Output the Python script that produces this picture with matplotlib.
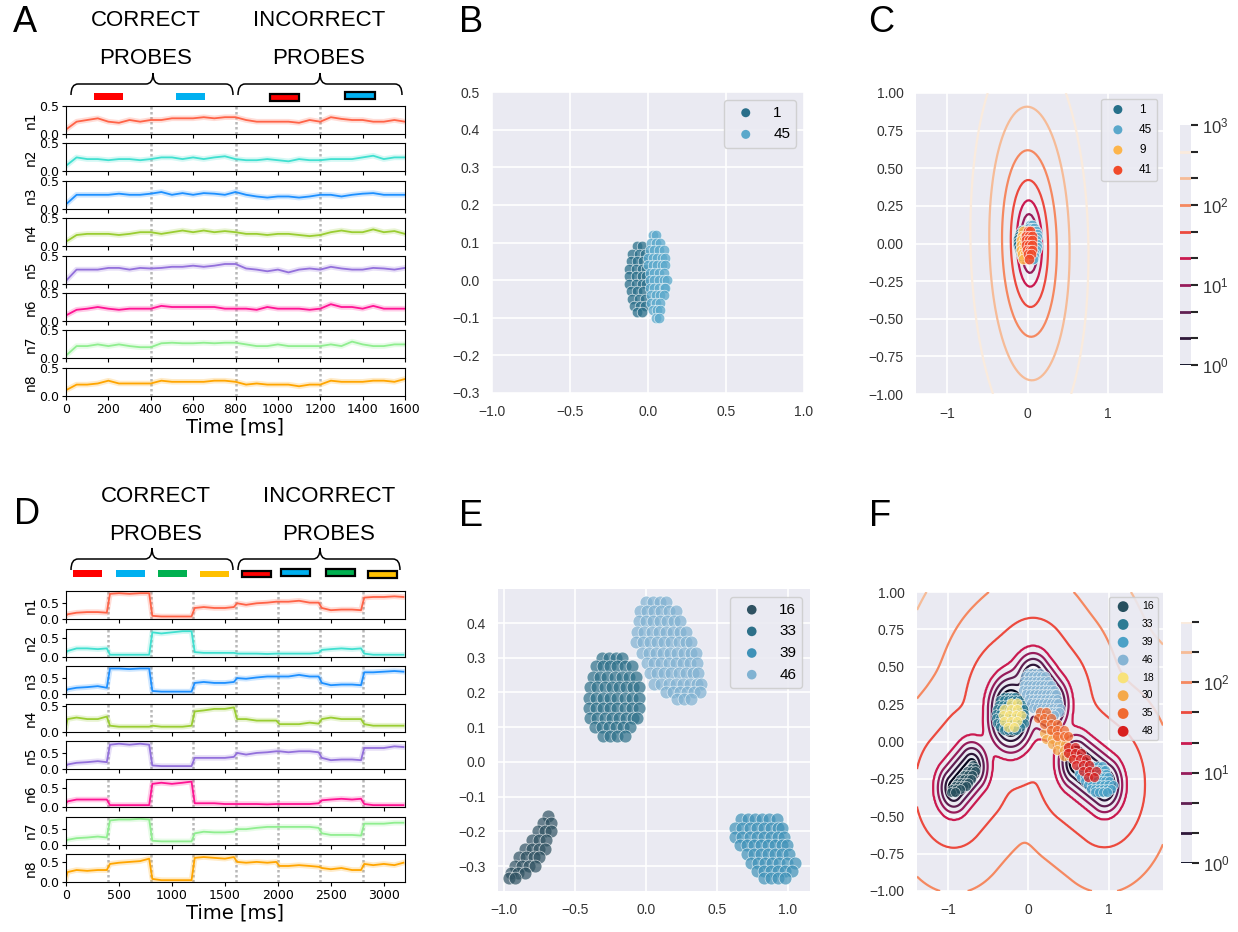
import numpy as np
import matplotlib
matplotlib.use("Agg")
import matplotlib.pyplot as plt
import seaborn as sns
from matplotlib.path import Path
from matplotlib.patches import PathPatch, Rectangle
from matplotlib.colors import LogNorm
from matplotlib.ticker import NullLocator

plt.rcParams["mathtext.fontset"] = "custom"
plt.rcParams["mathtext.rm"] = "Liberation Sans"
plt.rcParams["mathtext.it"] = "Liberation Sans:italic"

W, H = 1238, 932

## ---------------- data: panel A (mean activity, read every 50 ms) ----------------
TIME_A = np.arange(0, 1601, 50)
BOUNDS_A = [400, 800, 1200]
A_N1 = [0.08, 0.22, 0.25, 0.28, 0.22, 0.20, 0.25, 0.22, 0.25, 0.25, 0.28, 0.28, 0.28, 0.30, 0.28, 0.30, 0.30,
        0.25, 0.22, 0.22, 0.22, 0.22, 0.20, 0.25, 0.22, 0.30, 0.27, 0.25, 0.25, 0.22, 0.22, 0.25, 0.22]
A_N2 = [0.10, 0.25, 0.22, 0.22, 0.20, 0.22, 0.22, 0.20, 0.22, 0.25, 0.25, 0.22, 0.25, 0.22, 0.25, 0.27, 0.22,
        0.20, 0.20, 0.22, 0.20, 0.18, 0.22, 0.20, 0.20, 0.22, 0.22, 0.22, 0.25, 0.28, 0.22, 0.25, 0.25]
A_N3 = [0.08, 0.25, 0.25, 0.25, 0.25, 0.27, 0.25, 0.25, 0.27, 0.30, 0.25, 0.28, 0.25, 0.28, 0.27, 0.25, 0.30,
        0.25, 0.22, 0.20, 0.22, 0.22, 0.20, 0.22, 0.25, 0.25, 0.22, 0.25, 0.27, 0.28, 0.25, 0.25, 0.25]
A_N4 = [0.08, 0.20, 0.22, 0.22, 0.22, 0.20, 0.22, 0.25, 0.25, 0.22, 0.25, 0.28, 0.25, 0.28, 0.25, 0.27, 0.25,
        0.22, 0.22, 0.20, 0.22, 0.22, 0.20, 0.18, 0.20, 0.25, 0.28, 0.25, 0.25, 0.30, 0.25, 0.27, 0.22]
A_N5 = [0.05, 0.25, 0.25, 0.25, 0.28, 0.28, 0.25, 0.28, 0.27, 0.28, 0.30, 0.30, 0.32, 0.30, 0.32, 0.35, 0.35,
        0.27, 0.25, 0.22, 0.25, 0.20, 0.25, 0.27, 0.25, 0.30, 0.27, 0.25, 0.25, 0.28, 0.27, 0.25, 0.28]
A_N6 = [0.10, 0.20, 0.22, 0.25, 0.22, 0.20, 0.22, 0.22, 0.22, 0.27, 0.25, 0.25, 0.25, 0.25, 0.25, 0.22, 0.22,
        0.22, 0.20, 0.25, 0.22, 0.22, 0.22, 0.20, 0.22, 0.30, 0.25, 0.25, 0.22, 0.27, 0.22, 0.22, 0.22]
A_N7 = [0.05, 0.22, 0.22, 0.25, 0.22, 0.25, 0.22, 0.20, 0.20, 0.27, 0.28, 0.27, 0.27, 0.28, 0.27, 0.28, 0.28,
        0.25, 0.22, 0.22, 0.25, 0.22, 0.22, 0.22, 0.22, 0.25, 0.22, 0.30, 0.25, 0.22, 0.22, 0.25, 0.25]
A_N8 = [0.10, 0.20, 0.20, 0.22, 0.27, 0.22, 0.22, 0.22, 0.22, 0.27, 0.25, 0.25, 0.25, 0.25, 0.27, 0.27, 0.25,
        0.20, 0.22, 0.20, 0.20, 0.20, 0.17, 0.20, 0.20, 0.27, 0.25, 0.25, 0.25, 0.27, 0.27, 0.25, 0.30]

## ---------------- data: panel D (start value + 5 readings per 400 ms probe) ----------------
SEG_STARTS_D = np.arange(0, 3200, 400)
SEG_OFFSETS_D = [15, 100, 200, 300, 385]
TIME_D = np.concatenate([[0], (SEG_STARTS_D[:, None] + np.array(SEG_OFFSETS_D)).ravel()])
BOUNDS_D = [400, 800, 1200, 1600, 2000, 2400, 2800]
D_N1 = [0.10, 0.15, 0.20, 0.22, 0.22, 0.20, 0.80, 0.82, 0.80, 0.82, 0.82, 0.10, 0.08, 0.08, 0.08, 0.08,
        0.35, 0.38, 0.35, 0.35, 0.38, 0.50, 0.45, 0.50, 0.52, 0.55, 0.55, 0.55, 0.58, 0.52, 0.52,
        0.35, 0.28, 0.30, 0.30, 0.28, 0.68, 0.70, 0.70, 0.72, 0.70]
D_N2 = [0.10, 0.15, 0.22, 0.22, 0.20, 0.22, 0.05, 0.05, 0.05, 0.05, 0.05, 0.65, 0.62, 0.65, 0.68, 0.68,
        0.12, 0.10, 0.10, 0.10, 0.10, 0.08, 0.08, 0.08, 0.07, 0.08, 0.08, 0.08, 0.08, 0.08, 0.10,
        0.18, 0.20, 0.22, 0.20, 0.22, 0.08, 0.05, 0.05, 0.05, 0.05]
D_N3 = [0.10, 0.15, 0.20, 0.22, 0.25, 0.20, 0.80, 0.80, 0.78, 0.80, 0.80, 0.10, 0.08, 0.08, 0.08, 0.08,
        0.35, 0.38, 0.35, 0.35, 0.38, 0.50, 0.48, 0.52, 0.55, 0.55, 0.55, 0.55, 0.60, 0.55, 0.55,
        0.35, 0.28, 0.30, 0.30, 0.28, 0.68, 0.68, 0.70, 0.72, 0.70]
D_N4 = [0.10, 0.25, 0.28, 0.25, 0.25, 0.30, 0.12, 0.10, 0.10, 0.10, 0.10, 0.12, 0.10, 0.10, 0.10, 0.12,
        0.40, 0.42, 0.45, 0.45, 0.48, 0.25, 0.25, 0.22, 0.22, 0.22, 0.15, 0.15, 0.15, 0.18, 0.16,
        0.25, 0.28, 0.25, 0.25, 0.25, 0.15, 0.12, 0.12, 0.12, 0.12]
D_N5 = [0.10, 0.15, 0.20, 0.22, 0.25, 0.22, 0.75, 0.78, 0.75, 0.78, 0.75, 0.12, 0.10, 0.10, 0.10, 0.10,
        0.35, 0.35, 0.35, 0.35, 0.38, 0.50, 0.45, 0.50, 0.52, 0.55, 0.55, 0.52, 0.55, 0.55, 0.52,
        0.35, 0.28, 0.30, 0.30, 0.28, 0.65, 0.65, 0.65, 0.70, 0.68]
D_N6 = [0.10, 0.15, 0.20, 0.20, 0.20, 0.20, 0.05, 0.05, 0.05, 0.05, 0.05, 0.62, 0.65, 0.62, 0.65, 0.68,
        0.10, 0.10, 0.10, 0.08, 0.08, 0.08, 0.08, 0.08, 0.07, 0.08, 0.08, 0.08, 0.08, 0.08, 0.10,
        0.18, 0.20, 0.22, 0.20, 0.22, 0.08, 0.05, 0.05, 0.05, 0.05]
D_N7 = [0.10, 0.15, 0.20, 0.22, 0.25, 0.22, 0.75, 0.78, 0.78, 0.80, 0.78, 0.12, 0.10, 0.10, 0.10, 0.10,
        0.35, 0.40, 0.38, 0.38, 0.40, 0.48, 0.48, 0.52, 0.55, 0.55, 0.55, 0.55, 0.55, 0.55, 0.52,
        0.35, 0.30, 0.30, 0.30, 0.28, 0.65, 0.65, 0.65, 0.68, 0.68]
D_N8 = [0.10, 0.25, 0.30, 0.28, 0.30, 0.30, 0.45, 0.48, 0.50, 0.52, 0.58, 0.08, 0.05, 0.05, 0.05, 0.05,
        0.60, 0.62, 0.60, 0.58, 0.62, 0.50, 0.48, 0.50, 0.48, 0.50, 0.40, 0.40, 0.42, 0.40, 0.38,
        0.35, 0.32, 0.35, 0.30, 0.30, 0.45, 0.42, 0.45, 0.42, 0.48]

NEURON_COLORS = ["tomato", "turquoise", "dodgerblue", "yellowgreen",
                 "mediumpurple", "deeppink", "lightgreen", "orange"]
PROBE_COLORS_A = ["#FF0000", "#00B0F0"]
PROBE_COLORS_D = ["#FF0000", "#00B0F0", "#00B050", "#FFC000"]

## ---------------- data: scatter clusters, rows of (y, [x ...]) ----------------
B_C1 = [(0.09, [-0.07, -0.04]), (0.07, [-0.10, -0.06, -0.02]), (0.05, [-0.11, -0.07, -0.03]),
        (0.03, [-0.12, -0.08, -0.04, -0.01]), (0.01, [-0.12, -0.08, -0.04, -0.01]),
        (-0.01, [-0.12, -0.08, -0.04, -0.01]), (-0.03, [-0.11, -0.07, -0.03]),
        (-0.05, [-0.10, -0.06, -0.02]), (-0.07, [-0.09, -0.05, -0.02]), (-0.085, [-0.07, -0.04])]
B_C45 = [(0.12, [0.03, 0.05]), (0.10, [0.02, 0.05, 0.08]), (0.08, [0.01, 0.04, 0.07, 0.10]),
         (0.06, [0.0, 0.03, 0.06, 0.09, 0.11]), (0.04, [0.0, 0.03, 0.06, 0.09, 0.11]),
         (0.02, [0.01, 0.04, 0.07, 0.10]), (0.0, [0.01, 0.04, 0.07, 0.10, 0.12]),
         (-0.02, [0.01, 0.04, 0.07, 0.10, 0.11]), (-0.04, [0.02, 0.05, 0.08, 0.10]),
         (-0.06, [0.02, 0.05, 0.08]), (-0.08, [0.03, 0.06, 0.08]), (-0.10, [0.05, 0.07])]
C_C9 = [(0.08, [-0.06]), (0.05, [-0.07, -0.04]), (0.02, [-0.08, -0.05]), (-0.01, [-0.08, -0.05]),
        (-0.04, [-0.08, -0.05]), (-0.07, [-0.07, -0.04]), (-0.10, [-0.06])]
C_C41 = [(0.08, [0.0, 0.03]), (0.05, [-0.02, 0.02, 0.05]), (0.02, [-0.02, 0.02, 0.05]),
         (-0.01, [-0.02, 0.02, 0.05]), (-0.04, [-0.01, 0.03, 0.05]), (-0.07, [0.0, 0.04]), (-0.10, [0.02])]

E_C16 = [(-0.155, [-0.69]), (-0.175, [-0.72, -0.67]), (-0.20, [-0.76, -0.71, -0.67]),
         (-0.225, [-0.80, -0.75, -0.70]), (-0.25, [-0.85, -0.80, -0.75, -0.71]),
         (-0.275, [-0.89, -0.84, -0.79, -0.75]), (-0.30, [-0.92, -0.87, -0.82, -0.78]),
         (-0.32, [-0.95, -0.90, -0.85]), (-0.335, [-0.96, -0.92])]
E_C33 = [(0.30, [-0.31, -0.26, -0.21, -0.17]), (0.275, [-0.35, -0.30, -0.25, -0.20, -0.15, -0.10]),
         (0.245, [-0.37, -0.32, -0.27, -0.22, -0.17, -0.12, -0.07]),
         (0.215, [-0.39, -0.34, -0.29, -0.24, -0.19, -0.14, -0.09, -0.05]),
         (0.185, [-0.40, -0.35, -0.30, -0.25, -0.20, -0.15, -0.10, -0.05]),
         (0.155, [-0.40, -0.35, -0.30, -0.25, -0.20, -0.15, -0.10, -0.05]),
         (0.125, [-0.39, -0.34, -0.29, -0.24, -0.19, -0.14, -0.09, -0.06]),
         (0.10, [-0.36, -0.31, -0.26, -0.21, -0.16, -0.11]), (0.075, [-0.30, -0.25, -0.20, -0.15])]
E_C39 = [(-0.165, [0.67, 0.72, 0.77, 0.82, 0.87, 0.92]),
         (-0.19, [0.63, 0.68, 0.73, 0.78, 0.83, 0.88, 0.93, 0.96]),
         (-0.215, [0.63, 0.68, 0.73, 0.78, 0.83, 0.88, 0.93, 0.97]),
         (-0.24, [0.66, 0.71, 0.76, 0.81, 0.86, 0.91, 0.96, 0.99]),
         (-0.265, [0.71, 0.76, 0.81, 0.86, 0.91, 0.96, 1.01]),
         (-0.29, [0.74, 0.79, 0.84, 0.89, 0.94, 0.99, 1.05]),
         (-0.315, [0.78, 0.83, 0.88, 0.93, 0.98, 1.03]), (-0.335, [0.83, 0.88, 0.93, 0.98])]
E_C46 = [(0.46, [0.0, 0.05, 0.10, 0.14]), (0.435, [-0.04, 0.01, 0.06, 0.11, 0.16, 0.21]),
         (0.405, [-0.05, 0.0, 0.05, 0.10, 0.15, 0.20, 0.24]),
         (0.375, [-0.06, -0.01, 0.04, 0.09, 0.14, 0.19, 0.24, 0.28]),
         (0.345, [-0.07, -0.02, 0.03, 0.08, 0.13, 0.18, 0.23, 0.28, 0.32]),
         (0.315, [-0.03, 0.02, 0.07, 0.12, 0.17, 0.22, 0.27, 0.32, 0.35]),
         (0.285, [0.01, 0.06, 0.11, 0.16, 0.21, 0.26, 0.31, 0.36]),
         (0.255, [0.03, 0.08, 0.13, 0.18, 0.23, 0.28, 0.33, 0.37]),
         (0.225, [0.06, 0.11, 0.16, 0.21, 0.26, 0.31, 0.36, 0.39]),
         (0.20, [0.14, 0.19, 0.24, 0.29, 0.34, 0.38]), (0.18, [0.22, 0.27, 0.32])]
F_C18 = [(0.26, [-0.22, -0.14]), (0.22, [-0.30, -0.22, -0.14]), (0.18, [-0.32, -0.24, -0.16, -0.09]),
         (0.14, [-0.30, -0.22, -0.14]), (0.10, [-0.26, -0.18])]
F_C30 = [(0.06, [0.20, 0.28]), (0.02, [0.22, 0.30, 0.38]), (-0.02, [0.30, 0.38, 0.46]),
         (-0.06, [0.36, 0.44, 0.52]), (-0.10, [0.44, 0.52])]
F_C35 = [(0.20, [0.14, 0.22]), (0.16, [0.12, 0.20, 0.28]), (0.12, [0.20, 0.28, 0.36]),
         (0.08, [0.28, 0.36, 0.44]), (0.04, [0.36, 0.44, 0.50])]
F_C48 = [(-0.04, [0.50, 0.58]), (-0.08, [0.50, 0.58, 0.66]), (-0.12, [0.56, 0.64, 0.72]),
         (-0.16, [0.60, 0.68, 0.76]), (-0.20, [0.68, 0.76, 0.84]), (-0.24, [0.74, 0.82])]

B_LABELS = ["1", "45"]
B_COLORS = ["#2A6F8A", "#5AA8CB"]
C_LABELS = ["1", "45", "9", "41"]
C_COLORS = ["#26708A", "#5BA8CB", "#FDB54C", "#F14A2A"]
E_LABELS = ["16", "33", "39", "46"]
E_COLORS = ["#2F5262", "#2D7089", "#3F92B8", "#80B2D2"]
F_LABELS = ["16", "33", "39", "46", "18", "30", "35", "48"]
F_COLORS = ["#264F5E", "#2D7C94", "#4BA1C7", "#86B4D4", "#F8E27A", "#F5A94A", "#F06A30", "#D81F1F"]

## contour landscapes (levels shared by contour lines and colourbar ticks)
C_TICK_LEVELS = [1, 2.15, 4.64, 10, 21.5, 46.4, 100, 215, 464, 1000]
C_LEVELS = C_TICK_LEVELS[:9]
C_CENTER_X, C_SHEAR, C_SX, C_SY, C_SCALE = 0.02, -0.033, 0.34, 0.62, 100.0
F_LEVELS = [1, 2.15, 4.64, 10, 21.5, 46.4, 100, 215, 464]
# wells: segment x0, y0, x1, y1 and radius (screen-like units)
F_WELLS = [(-0.93, -0.31, -0.71, -0.17, 6), (-0.22, 0.16, -0.22, 0.22, 14),
           (0.06, 0.40, 0.27, 0.25, 9), (0.60, -0.14, 0.95, -0.29, 8)]
# distance of each ring (level index 0..8) from the cluster edges
F_RING_DIST = [0, 4, 8.5, 13, 18.5, 40, 75, 120, 175]
F_METRIC = (95.0, 115.0)

CMAP = sns.color_palette("rocket", as_cmap=True)

fig = plt.figure(figsize=(W / 100, H / 100), dpi=100)


def rect(x0, y0, x1, y1):
    return [x0 / W, 1 - y1 / H, (x1 - x0) / W, (y1 - y0) / H]


def fxy(x, y):
    return x / W, 1 - y / H


def rows_to_xy(rows):
    pts = np.array([(x, y) for y, xs in rows for x in xs])
    return pts[:, 0], pts[:, 1]


def neuron_panel(t, series, bounds, top0, pitch, xmax, xticks, ymin_top=None):
    for i, (vals, col) in enumerate(zip(series, NEURON_COLORS)):
        top = top0 + i * pitch
        ax = fig.add_axes(rect(66, top, 405, top + 28))
        for b in bounds:
            ax.axvline(b, color="0.72", ls=(0, (1, 1)), lw=1.8, zorder=0)
        ax.plot(t, vals, color=col, lw=4, alpha=0.22)
        ax.plot(t, vals, color=col, lw=1.3)
        ax.set_xlim(0, xmax)
        if ymin_top is None:
            ax.set_ylim(0, max(vals) + 0.07)
        else:
            ax.set_ylim(0, ymin_top)
        ax.set_yticks([0, 0.5])
        ax.set_yticklabels(["0.0", "0.5"])
        ax.set_xticks(xticks)
        ax.set_ylabel("n%d" % (i + 1), fontsize=10, labelpad=1)
        ax.tick_params(labelsize=9, length=3, pad=2)
        if i < len(series) - 1:
            ax.tick_params(labelbottom=False)
        else:
            ax.set_xlabel("Time [ms]", fontsize=14, labelpad=1)


def brace(x0, x1, xm, yb, yl, yt, r=7):
    verts = [(x0, yb), (x0, yl), (x0 + r, yl), (xm - r, yl), (xm, yl), (xm, yt),
             (xm, yl), (xm + r, yl), (x1 - r, yl), (x1, yl), (x1, yb)]
    codes = [Path.MOVETO, Path.CURVE3, Path.CURVE3, Path.LINETO, Path.CURVE3, Path.CURVE3,
             Path.CURVE3, Path.CURVE3, Path.LINETO, Path.CURVE3, Path.CURVE3]
    p = Path([fxy(x, y) for x, y in verts], codes)
    fig.add_artist(PathPatch(p, transform=fig.transFigure, fill=False, lw=1.1, color="black"))


def probe_bar(x0, x1, y0, y1, col, outlined):
    fig.add_artist(Rectangle(fxy(x0, y1), (x1 - x0) / W, (y1 - y0) / H, transform=fig.transFigure,
                             facecolor=col, edgecolor="black" if outlined else col,
                             lw=1.6 if outlined else 0))


def header(cx1, cx2, y1, y2):
    for cx, word in [(cx1, "CORRECT"), (cx2, "INCORRECT")]:
        fig.text(*fxy(cx, y1), word, ha="center", va="center", fontsize=16, family="Liberation Sans")
        fig.text(*fxy(cx, y2), "PROBES", ha="center", va="center", fontsize=16, family="Liberation Sans")


def sns_axes(r):
    ax = fig.add_axes(r)
    ax.set_facecolor("#EAEAF2")
    for s in ax.spines.values():
        s.set_visible(False)
    ax.grid(True, color="white", lw=1.2)
    ax.set_axisbelow(True)
    ax.tick_params(length=0, pad=9, labelsize=10, labelcolor="#333333", labelfontfamily="Liberation Sans")
    return ax


def scatter_groups(ax, groups, colors, labels, s=58, zorder=3, alpha=0.75):
    for rows, col, lab in zip(groups, colors, labels):
        x, y = rows_to_xy(rows)
        ax.scatter(x, y, s=s, color=col, edgecolors="white", linewidths=0.5, alpha=alpha,
                   label=lab, zorder=zorder)


def add_legend(ax, size, spacing, mscale=1.0):
    leg = ax.legend(loc="upper right", prop={"family": "Liberation Sans", "size": size},
                    labelspacing=spacing, facecolor="#EAEAF2", edgecolor="#CCCCCC", framealpha=0.85,
                    markerscale=mscale)
    for h in leg.legend_handles:
        h.set_alpha(1)
        h.set_edgecolor("none")
    return leg


def line_colorbar(r, levels, tick_levels):
    norm = LogNorm(levels[0], levels[-1])
    cax = fig.add_axes(r)
    cax.set_facecolor("#EAEAF2")
    for s in cax.spines.values():
        s.set_visible(False)
    cax.set_yscale("log")
    cax.set_ylim(tick_levels[0], tick_levels[-1])
    cax.set_xlim(0, 1)
    cax.set_xticks([])
    for lv in levels:
        cax.axhline(lv, color=CMAP(norm(lv)), lw=2)
    cax.yaxis.tick_right()
    cax.set_yticks(tick_levels)
    labs = []
    for lv in tick_levels:
        e = np.log10(lv)
        labs.append("$10^{%d}$" % round(e) if abs(e - round(e)) < 0.01 else "")
    cax.set_yticklabels(labs)
    cax.yaxis.set_minor_locator(NullLocator())
    cax.tick_params(axis="y", length=5, width=1.5, color="#262626", labelsize=12, pad=3,
                    labelcolor="#333333")


## ---------------- panels A and D ----------------
neuron_panel(TIME_A, [A_N1, A_N2, A_N3, A_N4, A_N5, A_N6, A_N7, A_N8], BOUNDS_A,
             106, 37.4, 1600, np.arange(0, 1601, 200), ymin_top=0.5)
neuron_panel(TIME_D, [D_N1, D_N2, D_N3, D_N4, D_N5, D_N6, D_N7, D_N8], BOUNDS_D,
             591, 37.6, 3200, np.arange(0, 3001, 500))

header(146, 319, 20, 58)
header(156, 329, 497, 535)
brace(71, 233, 153, 95, 84, 73)
brace(238, 402, 320, 95, 84, 73)
brace(71, 233, 152, 570, 559, 548)
brace(238, 400, 320, 570, 559, 548)
for (x0, x1, y0, y1), col in zip([(94, 123, 93, 100), (176, 205, 93, 100)], PROBE_COLORS_A):
    probe_bar(x0, x1, y0, y1, col, False)
for (x0, x1, y0, y1), col in zip([(270, 299, 94, 101), (345, 375, 92, 99)], PROBE_COLORS_A):
    probe_bar(x0, x1, y0, y1, col, True)
for (x0, x1, y0, y1), col in zip([(73, 102, 570, 577), (116, 145, 570, 577), (158, 187, 570, 577),
                                  (200, 229, 571, 577)], PROBE_COLORS_D):
    probe_bar(x0, x1, y0, y1, col, False)
for (x0, x1, y0, y1), col in zip([(242, 271, 571, 577), (281, 310, 569, 576), (326, 355, 569, 576),
                                  (368, 397, 571, 578)], PROBE_COLORS_D):
    probe_bar(x0, x1, y0, y1, col, True)

## ---------------- panel B ----------------
axB = sns_axes(rect(492, 92, 804, 393))
scatter_groups(axB, [B_C1, B_C45], B_COLORS, B_LABELS)
axB.set_xlim(-1, 1)
axB.set_ylim(-0.3, 0.5)
axB.set_xticks([-1, -0.5, 0, 0.5, 1])
axB.set_yticks(np.arange(-0.3, 0.51, 0.1))
add_legend(axB, 11, 0.5, 0.85)

## ---------------- panel C ----------------
axC = sns_axes(rect(916, 93, 1163, 394))
XL, YL = (-1.39, 1.68), (-1.0, 1.0)
gx = np.linspace(XL[0], XL[1], 110)
gy = np.linspace(YL[0], YL[1], 110)
GX, GY = np.meshgrid(gx, gy)
ZC = C_SCALE * (((GX - (C_CENTER_X + C_SHEAR * GY)) / C_SX) ** 2 + (GY / C_SY) ** 2)
normC = LogNorm(C_LEVELS[0], C_LEVELS[-1])
axC.contour(GX, GY, ZC, levels=C_LEVELS, colors=[CMAP(normC(l)) for l in C_LEVELS], linewidths=1.6, zorder=2)
scatter_groups(axC, [B_C1, B_C45, C_C9, C_C41], C_COLORS, C_LABELS, zorder=3, alpha=0.85)
axC.set_xlim(*XL)
axC.set_ylim(*YL)
axC.set_xticks([-1, 0, 1])
axC.set_yticks(np.arange(-1, 1.01, 0.25))
add_legend(axC, 8.5, 0.7, 0.85)
line_colorbar(rect(1180, 125, 1191, 365), C_LEVELS, C_TICK_LEVELS)

## ---------------- panel E ----------------
axE = sns_axes(rect(498, 589, 810, 891))
scatter_groups(axE, [E_C16, E_C33, E_C39, E_C46], E_COLORS, E_LABELS, s=85, alpha=0.7)
axE.set_xlim(-1.04, 1.155)
axE.set_ylim(-0.372, 0.498)
axE.set_xticks([-1, -0.5, 0, 0.5, 1])
axE.set_yticks(np.arange(-0.3, 0.41, 0.1))
add_legend(axE, 11, 0.5, 0.75)

## ---------------- panel F ----------------
axF = sns_axes(rect(917, 592, 1163, 891))
gx = np.linspace(XL[0], XL[1], 260)
gy = np.linspace(YL[0], YL[1], 260)
GX, GY = np.meshgrid(gx, gy)
U, V = GX * F_METRIC[0], GY * F_METRIC[1]
dists = []
for x0, y0, x1, y1, rad in F_WELLS:
    ax0, ay0, bx0, by0 = x0 * F_METRIC[0], y0 * F_METRIC[1], x1 * F_METRIC[0], y1 * F_METRIC[1]
    dx, dy = bx0 - ax0, by0 - ay0
    tt = np.clip(((U - ax0) * dx + (V - ay0) * dy) / max(dx * dx + dy * dy, 1e-9), 0, 1)
    dists.append(np.hypot(U - (ax0 + tt * dx), V - (ay0 + tt * dy)) - rad)
dists = np.array(dists)
tau = 5.0
DD = -tau * np.log(np.exp(-dists / tau).sum(axis=0))
ring = np.interp(DD, F_RING_DIST, np.arange(len(F_RING_DIST)))
ring = np.where(DD < 0, DD / F_RING_DIST[1], ring)
ring = np.where(DD > F_RING_DIST[-1], len(F_RING_DIST) - 1 + (DD - F_RING_DIST[-1]) / 60.0, ring)
ZF = 10 ** (ring / 3.0)
normF = LogNorm(F_LEVELS[0], F_LEVELS[-1])
axF.contour(GX, GY, ZF, levels=F_LEVELS, colors=[CMAP(normF(l)) for l in F_LEVELS], linewidths=1.6, zorder=2)
scatter_groups(axF, [E_C16, E_C33, E_C39, E_C46, F_C18, F_C30, F_C35, F_C48], F_COLORS, F_LABELS,
               s=50, zorder=3)
axF.set_xlim(*XL)
axF.set_ylim(*YL)
axF.set_xticks([-1, 0, 1])
axF.set_yticks(np.arange(-1, 1.01, 0.25))
add_legend(axF, 7.5, 0.75, 1.1)
line_colorbar(rect(1181, 622, 1192, 863), F_LEVELS, F_LEVELS)

## ---------------- panel letters ----------------
for lab, x, y in [("A", 13, 23), ("B", 459, 23), ("C", 868, 23), ("D", 14, 515), ("E", 459, 517), ("F", 869, 517)]:
    fig.text(*fxy(x, y), lab, fontsize=26, family="Liberation Sans", ha="left", va="center")

fig.savefig("out.png", dpi=100)
